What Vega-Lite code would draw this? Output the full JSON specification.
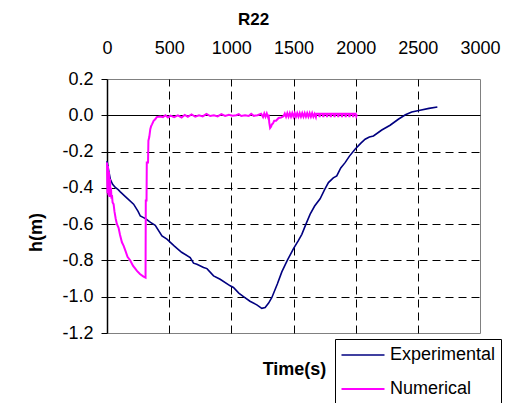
{
  "$schema": "https://vega.github.io/schema/vega-lite/v6.json",
  "width": 373,
  "height": 254,
  "autosize": {"type": "none"},
  "padding": {"left": 107, "top": 79, "right": 43, "bottom": 70},
  "view": {"stroke": "#808080", "strokeWidth": 1},
  "config": {
    "font": "Liberation Sans",
    "view": {"stroke": "#808080", "strokeWidth": 1}
  },
  "title": {
    "text": "R22",
    "fontSize": 17,
    "fontWeight": "bold",
    "color": "black",
    "anchor": "middle",
    "frame": "group",
    "dx": -40,
    "offset": 10
  },
  "data": {"values": [
      {"t": 0, "h": -0.252, "s": "Experimental"},
      {"t": 15, "h": -0.31, "s": "Experimental"},
      {"t": 27, "h": -0.353, "s": "Experimental"},
      {"t": 45, "h": -0.38, "s": "Experimental"},
      {"t": 67, "h": -0.398, "s": "Experimental"},
      {"t": 90, "h": -0.41, "s": "Experimental"},
      {"t": 107, "h": -0.422, "s": "Experimental"},
      {"t": 150, "h": -0.45, "s": "Experimental"},
      {"t": 214, "h": -0.49, "s": "Experimental"},
      {"t": 250, "h": -0.53, "s": "Experimental"},
      {"t": 268, "h": -0.555, "s": "Experimental"},
      {"t": 294, "h": -0.564, "s": "Experimental"},
      {"t": 308, "h": -0.569, "s": "Experimental"},
      {"t": 350, "h": -0.59, "s": "Experimental"},
      {"t": 388, "h": -0.606, "s": "Experimental"},
      {"t": 442, "h": -0.665, "s": "Experimental"},
      {"t": 482, "h": -0.683, "s": "Experimental"},
      {"t": 540, "h": -0.72, "s": "Experimental"},
      {"t": 600, "h": -0.755, "s": "Experimental"},
      {"t": 669, "h": -0.784, "s": "Experimental"},
      {"t": 696, "h": -0.815, "s": "Experimental"},
      {"t": 723, "h": -0.821, "s": "Experimental"},
      {"t": 777, "h": -0.839, "s": "Experimental"},
      {"t": 804, "h": -0.845, "s": "Experimental"},
      {"t": 857, "h": -0.885, "s": "Experimental"},
      {"t": 910, "h": -0.904, "s": "Experimental"},
      {"t": 991, "h": -0.94, "s": "Experimental"},
      {"t": 1017, "h": -0.949, "s": "Experimental"},
      {"t": 1060, "h": -0.98, "s": "Experimental"},
      {"t": 1098, "h": -1.0, "s": "Experimental"},
      {"t": 1150, "h": -1.025, "s": "Experimental"},
      {"t": 1205, "h": -1.045, "s": "Experimental"},
      {"t": 1245, "h": -1.064, "s": "Experimental"},
      {"t": 1272, "h": -1.06, "s": "Experimental"},
      {"t": 1300, "h": -1.035, "s": "Experimental"},
      {"t": 1326, "h": -1.004, "s": "Experimental"},
      {"t": 1370, "h": -0.93, "s": "Experimental"},
      {"t": 1406, "h": -0.863, "s": "Experimental"},
      {"t": 1450, "h": -0.8, "s": "Experimental"},
      {"t": 1500, "h": -0.735, "s": "Experimental"},
      {"t": 1540, "h": -0.69, "s": "Experimental"},
      {"t": 1567, "h": -0.656, "s": "Experimental"},
      {"t": 1600, "h": -0.6, "s": "Experimental"},
      {"t": 1634, "h": -0.545, "s": "Experimental"},
      {"t": 1670, "h": -0.5, "s": "Experimental"},
      {"t": 1714, "h": -0.46, "s": "Experimental"},
      {"t": 1750, "h": -0.41, "s": "Experimental"},
      {"t": 1781, "h": -0.371, "s": "Experimental"},
      {"t": 1820, "h": -0.345, "s": "Experimental"},
      {"t": 1848, "h": -0.334, "s": "Experimental"},
      {"t": 1880, "h": -0.29, "s": "Experimental"},
      {"t": 1915, "h": -0.261, "s": "Experimental"},
      {"t": 1950, "h": -0.225, "s": "Experimental"},
      {"t": 1995, "h": -0.187, "s": "Experimental"},
      {"t": 2040, "h": -0.155, "s": "Experimental"},
      {"t": 2076, "h": -0.132, "s": "Experimental"},
      {"t": 2110, "h": -0.12, "s": "Experimental"},
      {"t": 2143, "h": -0.114, "s": "Experimental"},
      {"t": 2210, "h": -0.081, "s": "Experimental"},
      {"t": 2277, "h": -0.055, "s": "Experimental"},
      {"t": 2343, "h": -0.022, "s": "Experimental"},
      {"t": 2400, "h": 0.003, "s": "Experimental"},
      {"t": 2451, "h": 0.018, "s": "Experimental"},
      {"t": 2518, "h": 0.028, "s": "Experimental"},
      {"t": 2590, "h": 0.038, "s": "Experimental"},
      {"t": 2657, "h": 0.046, "s": "Experimental"},
      {"t": 0, "h": -0.26, "s": "Numerical"},
      {"t": 4, "h": -0.43, "s": "Numerical"},
      {"t": 8, "h": -0.28, "s": "Numerical"},
      {"t": 12, "h": -0.44, "s": "Numerical"},
      {"t": 16, "h": -0.31, "s": "Numerical"},
      {"t": 20, "h": -0.45, "s": "Numerical"},
      {"t": 24, "h": -0.35, "s": "Numerical"},
      {"t": 28, "h": -0.45, "s": "Numerical"},
      {"t": 32, "h": -0.4, "s": "Numerical"},
      {"t": 36, "h": -0.46, "s": "Numerical"},
      {"t": 40, "h": -0.44, "s": "Numerical"},
      {"t": 45, "h": -0.48, "s": "Numerical"},
      {"t": 53, "h": -0.49, "s": "Numerical"},
      {"t": 60, "h": -0.53, "s": "Numerical"},
      {"t": 70, "h": -0.57, "s": "Numerical"},
      {"t": 80, "h": -0.6, "s": "Numerical"},
      {"t": 93, "h": -0.62, "s": "Numerical"},
      {"t": 105, "h": -0.66, "s": "Numerical"},
      {"t": 120, "h": -0.7, "s": "Numerical"},
      {"t": 134, "h": -0.72, "s": "Numerical"},
      {"t": 150, "h": -0.75, "s": "Numerical"},
      {"t": 165, "h": -0.78, "s": "Numerical"},
      {"t": 187, "h": -0.8, "s": "Numerical"},
      {"t": 210, "h": -0.83, "s": "Numerical"},
      {"t": 241, "h": -0.858, "s": "Numerical"},
      {"t": 265, "h": -0.875, "s": "Numerical"},
      {"t": 294, "h": -0.889, "s": "Numerical"},
      {"t": 310, "h": -0.895, "s": "Numerical"},
      {"t": 312, "h": -0.47, "s": "Numerical"},
      {"t": 318, "h": -0.47, "s": "Numerical"},
      {"t": 320, "h": -0.26, "s": "Numerical"},
      {"t": 330, "h": -0.26, "s": "Numerical"},
      {"t": 333, "h": -0.14, "s": "Numerical"},
      {"t": 340, "h": -0.12, "s": "Numerical"},
      {"t": 348, "h": -0.077, "s": "Numerical"},
      {"t": 355, "h": -0.06, "s": "Numerical"},
      {"t": 362, "h": -0.05, "s": "Numerical"},
      {"t": 375, "h": -0.03, "s": "Numerical"},
      {"t": 388, "h": -0.022, "s": "Numerical"},
      {"t": 400, "h": -0.01, "s": "Numerical"},
      {"t": 428, "h": -0.007, "s": "Numerical"},
      {"t": 450, "h": -0.01, "s": "Numerical"},
      {"t": 470, "h": 0.0, "s": "Numerical"},
      {"t": 490, "h": -0.012, "s": "Numerical"},
      {"t": 510, "h": -0.002, "s": "Numerical"},
      {"t": 540, "h": -0.01, "s": "Numerical"},
      {"t": 570, "h": 0.0, "s": "Numerical"},
      {"t": 600, "h": -0.012, "s": "Numerical"},
      {"t": 625, "h": 0.002, "s": "Numerical"},
      {"t": 650, "h": -0.008, "s": "Numerical"},
      {"t": 680, "h": 0.005, "s": "Numerical"},
      {"t": 710, "h": -0.008, "s": "Numerical"},
      {"t": 740, "h": 0.0, "s": "Numerical"},
      {"t": 770, "h": -0.006, "s": "Numerical"},
      {"t": 800, "h": 0.008, "s": "Numerical"},
      {"t": 830, "h": -0.004, "s": "Numerical"},
      {"t": 860, "h": 0.0, "s": "Numerical"},
      {"t": 890, "h": -0.006, "s": "Numerical"},
      {"t": 920, "h": 0.006, "s": "Numerical"},
      {"t": 950, "h": -0.004, "s": "Numerical"},
      {"t": 980, "h": 0.003, "s": "Numerical"},
      {"t": 1010, "h": -0.003, "s": "Numerical"},
      {"t": 1040, "h": 0.0, "s": "Numerical"},
      {"t": 1060, "h": 0.006, "s": "Numerical"},
      {"t": 1080, "h": -0.004, "s": "Numerical"},
      {"t": 1110, "h": 0.0, "s": "Numerical"},
      {"t": 1140, "h": -0.004, "s": "Numerical"},
      {"t": 1160, "h": 0.008, "s": "Numerical"},
      {"t": 1180, "h": -0.003, "s": "Numerical"},
      {"t": 1210, "h": 0.0, "s": "Numerical"},
      {"t": 1240, "h": 0.008, "s": "Numerical"},
      {"t": 1255, "h": -0.01, "s": "Numerical"},
      {"t": 1265, "h": 0.01, "s": "Numerical"},
      {"t": 1275, "h": -0.008, "s": "Numerical"},
      {"t": 1285, "h": 0.01, "s": "Numerical"},
      {"t": 1295, "h": -0.01, "s": "Numerical"},
      {"t": 1300, "h": 0.004, "s": "Numerical"},
      {"t": 1305, "h": -0.04, "s": "Numerical"},
      {"t": 1312, "h": -0.07, "s": "Numerical"},
      {"t": 1320, "h": -0.062, "s": "Numerical"},
      {"t": 1326, "h": -0.05, "s": "Numerical"},
      {"t": 1335, "h": -0.045, "s": "Numerical"},
      {"t": 1345, "h": -0.03, "s": "Numerical"},
      {"t": 1360, "h": -0.03, "s": "Numerical"},
      {"t": 1380, "h": -0.015, "s": "Numerical"},
      {"t": 1400, "h": -0.012, "s": "Numerical"},
      {"t": 1420, "h": -0.005, "s": "Numerical"},
      {"t": 1430, "h": 0.01, "s": "Numerical"},
      {"t": 1440, "h": -0.008, "s": "Numerical"},
      {"t": 1450, "h": 0.012, "s": "Numerical"},
      {"t": 1460, "h": -0.008, "s": "Numerical"},
      {"t": 1470, "h": 0.012, "s": "Numerical"},
      {"t": 1480, "h": -0.008, "s": "Numerical"},
      {"t": 1490, "h": 0.012, "s": "Numerical"},
      {"t": 1500, "h": -0.008, "s": "Numerical"},
      {"t": 1510, "h": 0.012, "s": "Numerical"},
      {"t": 1520, "h": -0.008, "s": "Numerical"},
      {"t": 1530, "h": 0.012, "s": "Numerical"},
      {"t": 1540, "h": -0.008, "s": "Numerical"},
      {"t": 1550, "h": 0.012, "s": "Numerical"},
      {"t": 1560, "h": -0.008, "s": "Numerical"},
      {"t": 1570, "h": 0.012, "s": "Numerical"},
      {"t": 1580, "h": -0.008, "s": "Numerical"},
      {"t": 1590, "h": 0.012, "s": "Numerical"},
      {"t": 1600, "h": -0.008, "s": "Numerical"},
      {"t": 1610, "h": 0.012, "s": "Numerical"},
      {"t": 1620, "h": -0.008, "s": "Numerical"},
      {"t": 1630, "h": 0.012, "s": "Numerical"},
      {"t": 1640, "h": -0.008, "s": "Numerical"},
      {"t": 1650, "h": 0.012, "s": "Numerical"},
      {"t": 1660, "h": -0.008, "s": "Numerical"},
      {"t": 1670, "h": 0.008, "s": "Numerical"},
      {"t": 1680, "h": -0.01, "s": "Numerical"},
      {"t": 1685, "h": 0.008, "s": "Numerical"},
      {"t": 1705, "h": 0.008, "s": "Numerical"},
      {"t": 1710, "h": -0.01, "s": "Numerical"},
      {"t": 1715, "h": 0.008, "s": "Numerical"},
      {"t": 1735, "h": 0.008, "s": "Numerical"},
      {"t": 1740, "h": -0.01, "s": "Numerical"},
      {"t": 1745, "h": 0.008, "s": "Numerical"},
      {"t": 1765, "h": 0.008, "s": "Numerical"},
      {"t": 1770, "h": -0.01, "s": "Numerical"},
      {"t": 1775, "h": 0.008, "s": "Numerical"},
      {"t": 1795, "h": 0.008, "s": "Numerical"},
      {"t": 1800, "h": -0.01, "s": "Numerical"},
      {"t": 1805, "h": 0.008, "s": "Numerical"},
      {"t": 1825, "h": 0.008, "s": "Numerical"},
      {"t": 1830, "h": -0.01, "s": "Numerical"},
      {"t": 1835, "h": 0.008, "s": "Numerical"},
      {"t": 1855, "h": 0.008, "s": "Numerical"},
      {"t": 1860, "h": -0.01, "s": "Numerical"},
      {"t": 1865, "h": 0.008, "s": "Numerical"},
      {"t": 1885, "h": 0.008, "s": "Numerical"},
      {"t": 1890, "h": -0.01, "s": "Numerical"},
      {"t": 1895, "h": 0.008, "s": "Numerical"},
      {"t": 1915, "h": 0.008, "s": "Numerical"},
      {"t": 1920, "h": -0.01, "s": "Numerical"},
      {"t": 1925, "h": 0.008, "s": "Numerical"},
      {"t": 1945, "h": 0.008, "s": "Numerical"},
      {"t": 1950, "h": -0.01, "s": "Numerical"},
      {"t": 1955, "h": 0.008, "s": "Numerical"},
      {"t": 1975, "h": 0.008, "s": "Numerical"},
      {"t": 1980, "h": -0.01, "s": "Numerical"},
      {"t": 1985, "h": 0.008, "s": "Numerical"},
      {"t": 2000, "h": 0.008, "s": "Numerical"},
      {"t": 2005, "h": -0.005, "s": "Numerical"},
      {"t": 2010, "h": 0.005, "s": "Numerical"}
  ]},
  "mark": {"type": "line", "interpolate": "linear"},
  "encoding": {
    "x": {
      "field": "t",
      "type": "quantitative",
      "scale": {"domain": [0, 3000], "nice": false, "zero": false},
      "axis": {
        "orient": "top",
        "values": [0, 500, 1000, 1500, 2000, 2500, 3000],
        "format": "d",
        "domain": false,
        "ticks": false,
        "tickSize": 0,
        "labelPadding": 22,
        "labelFontSize": 18,
        "labelColor": "black",
        "labelFlush": false,
        "labelOverlap": false,
        "grid": true,
        "gridDash": [8, 5],
        "gridColor": {"condition": {"test": "datum.value == 0 || datum.value == 3000", "value": "transparent"}, "value": "black"},
        "gridWidth": 1,
        "title": "Time(s)",
        "titleFontSize": 18,
        "titleFontWeight": "bold",
        "titleColor": "black",
        "titleX": 187,
        "titleY": 290,
        "titleAlign": "center",
        "titleBaseline": "middle"
      }
    },
    "y": {
      "field": "h",
      "type": "quantitative",
      "scale": {"domain": [-1.2, 0.2], "nice": false, "zero": false},
      "axis": {
        "orient": "left",
        "values": [-1.2, -1.0, -0.8, -0.6, -0.4, -0.2, 0, 0.2],
        "labelExpr": "replace(format(datum.value, '.1f'), '\u2212', '-')",
        "domain": true,
        "domainColor": "black",
        "domainWidth": 1.5,
        "ticks": true,
        "tickSize": 6,
        "tickColor": "black",
        "labelPadding": 8,
        "labelFontSize": 18,
        "labelColor": "black",
        "labelFlush": false,
        "labelOverlap": false,
        "grid": true,
        "gridDash": {"condition": {"test": "abs(datum.value) < 0.001", "value": []}, "value": [8, 5]},
        "gridColor": {"condition": {"test": "datum.value > 0.1 || datum.value < -1.1", "value": "transparent"}, "value": "black"},
        "gridWidth": 1,
        "title": "h(m)",
        "titleFontSize": 18,
        "titleFontWeight": "bold",
        "titleColor": "black",
        "titleX": -71,
        "titleY": 153,
        "titleAlign": "center",
        "titleBaseline": "middle",
        "titleAngle": -90
      }
    },
    "color": {
      "field": "s",
      "type": "nominal",
      "scale": {"domain": ["Experimental", "Numerical"], "range": ["#000080", "#FF00FF"]},
      "legend": {
        "title": null,
        "orient": "none",
        "legendX": 228,
        "legendY": 260,
        "direction": "vertical",
        "symbolType": "stroke",
        "symbolSize": 1850,
        "symbolStrokeWidth": 1.5,
        "clipHeight": 22,
        "rowPadding": 12,
        "padding": 5,
        "labelOffset": 4,
        "labelFontSize": 18,
        "labelColor": "black",
        "labelLimit": 300,
        "strokeColor": "black",
        "fillColor": "white",
        "cornerRadius": 0
      }
    },
    "strokeWidth": {
      "field": "s",
      "type": "nominal",
      "scale": {"domain": ["Experimental", "Numerical"], "range": [1.6, 2]},
      "legend": null
    }
  }
}
